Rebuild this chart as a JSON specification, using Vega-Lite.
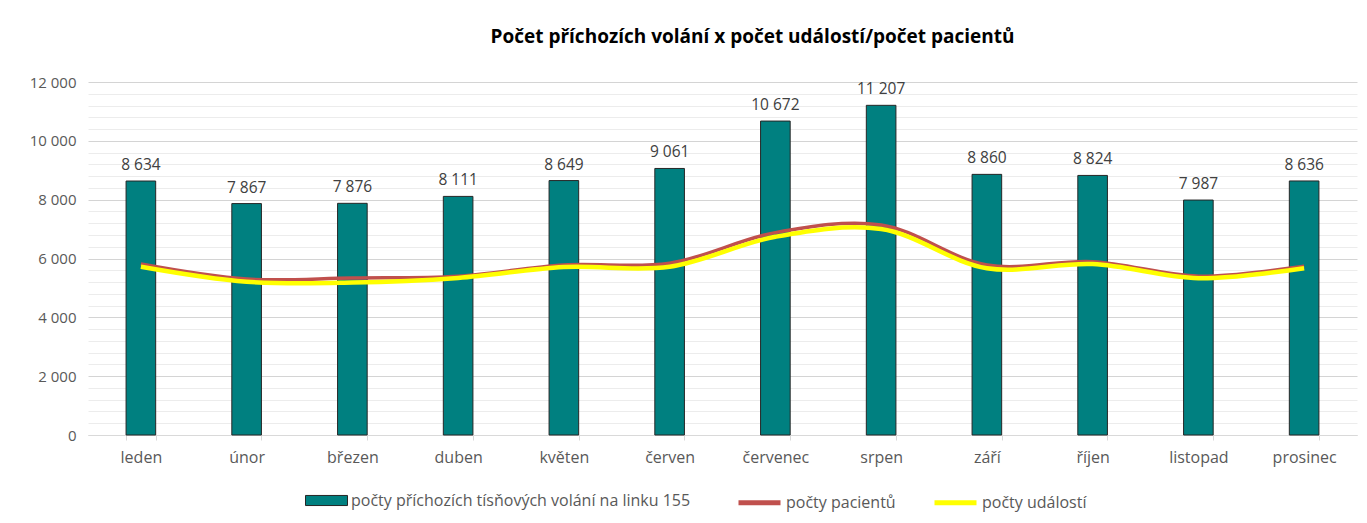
{
  "$schema": "https://vega.github.io/schema/vega-lite/v6.json",
  "autosize": {"type": "none"},
  "width": 1269,
  "height": 353,
  "padding": {"left": 88, "top": 82, "right": 10, "bottom": 88},
  "background": "white",
  "config": {
    "font": "Open Sans",
    "view": {"stroke": null},
    "locale": {"number": {"decimal": ",", "thousands": " ", "grouping": [3], "currency": ["", " Kč"]}},
    "axisY": {
      "title": null,
      "format": ",d",
      "labelExpr": "datum.value % 2000 === 0 ? datum.label : ''",
      "domain": false,
      "ticks": false,
      "labelPadding": 12,
      "labelFontSize": 15,
      "labelColor": "#595959",
      "gridColor": {"condition": {"test": "datum.value % 2000 === 0", "value": "#d4d4d4"}, "value": "#ececec"},
      "gridWidth": 1
    }
  },
  "title": {
    "text": "Počet příchozích volání x počet událostí/počet pacientů",
    "fontSize": 19,
    "fontWeight": "bold",
    "color": "#000000",
    "anchor": "middle",
    "dx": 30,
    "offset": 28
  },
  "data": {
    "values": [
      {"mesic": "leden", "volani": 8634, "pacienti": 5810, "udalosti": 5720},
      {"mesic": "únor", "volani": 7867, "pacienti": 5300, "udalosti": 5210},
      {"mesic": "březen", "volani": 7876, "pacienti": 5340, "udalosti": 5180},
      {"mesic": "duben", "volani": 8111, "pacienti": 5400, "udalosti": 5340},
      {"mesic": "květen", "volani": 8649, "pacienti": 5780, "udalosti": 5710},
      {"mesic": "červen", "volani": 9061, "pacienti": 5840, "udalosti": 5720},
      {"mesic": "červenec", "volani": 10672, "pacienti": 6880, "udalosti": 6740},
      {"mesic": "srpen", "volani": 11207, "pacienti": 7140, "udalosti": 7000},
      {"mesic": "září", "volani": 8860, "pacienti": 5780, "udalosti": 5670},
      {"mesic": "říjen", "volani": 8824, "pacienti": 5890, "udalosti": 5810},
      {"mesic": "listopad", "volani": 7987, "pacienti": 5400, "udalosti": 5330},
      {"mesic": "prosinec", "volani": 8636, "pacienti": 5740, "udalosti": 5670}
    ]
  },
  "encoding": {
    "x": {
      "field": "mesic",
      "type": "nominal",
      "sort": null,
      "title": null,
      "scale": {"paddingInner": 0.72, "paddingOuter": 0.36},
      "axis": {
        "labelAngle": 0,
        "labelFontSize": 16,
        "labelColor": "#595959",
        "labelPadding": 9,
        "domainColor": "#d9d9d9",
        "tickColor": "#d9d9d9",
        "tickSize": 5,
        "tickBand": "extent",
        "grid": false
      }
    }
  },
  "layer": [
    {
      "mark": {"type": "bar", "stroke": "#262626", "strokeWidth": 1},
      "encoding": {
        "y": {
          "field": "volani",
          "type": "quantitative",
          "title": null,
          "scale": {"domain": [0, 12000], "nice": false},
          "axis": {"values": [0, 400, 800, 1200, 1600, 2000, 2400, 2800, 3200, 3600, 4000, 4400, 4800, 5200, 5600, 6000, 6400, 6800, 7200, 7600, 8000, 8400, 8800, 9200, 9600, 10000, 10400, 10800, 11200, 11600, 12000]}
        },
        "fill": {
          "datum": "počty příchozích tísňových volání na linku 155",
          "type": "nominal",
          "scale": {"range": ["#008080"]},
          "legend": {
            "title": null,
            "orient": "none",
            "legendX": 217,
            "legendY": 397,
            "padding": 0,
            "symbolSize": 1764,
            "symbolType": "M-1,-0.24H1V0.24H-1Z",
            "symbolStrokeColor": "#262626",
            "symbolStrokeWidth": 1,
            "symbolOpacity": 1,
            "labelFontSize": 16,
            "labelColor": "#595959",
            "labelLimit": 600,
            "labelOffset": 3
          }
        }
      }
    },
    {
      "mark": {"type": "text", "baseline": "bottom", "dy": -8, "fontSize": 15.5, "color": "#404040"},
      "encoding": {
        "y": {
          "field": "volani",
          "type": "quantitative",
          "title": null,
          "axis": {"values": [0, 400, 800, 1200, 1600, 2000, 2400, 2800, 3200, 3600, 4000, 4400, 4800, 5200, 5600, 6000, 6400, 6800, 7200, 7600, 8000, 8400, 8800, 9200, 9600, 10000, 10400, 10800, 11200, 11600, 12000]}
        },
        "text": {"field": "volani", "type": "quantitative", "format": ",d"}
      }
    },
    {
      "mark": {"type": "line", "interpolate": "catmull-rom", "strokeWidth": 3.5},
      "encoding": {
        "y": {
          "field": "pacienti",
          "type": "quantitative",
          "title": null,
          "axis": {"values": [0, 400, 800, 1200, 1600, 2000, 2400, 2800, 3200, 3600, 4000, 4400, 4800, 5200, 5600, 6000, 6400, 6800, 7200, 7600, 8000, 8400, 8800, 9200, 9600, 10000, 10400, 10800, 11200, 11600, 12000]}
        },
        "stroke": {
          "datum": "počty pacientů",
          "type": "nominal",
          "scale": {"domain": ["počty pacientů", "počty událostí"], "range": ["#c0504d", "#ffff00"]},
          "legend": {
            "title": null,
            "orient": "none",
            "direction": "horizontal",
            "legendX": 648,
            "legendY": 397,
            "padding": 0,
            "symbolSize": 1764,
            "symbolType": "M-1,0H1",
            "symbolStrokeWidth": 5,
            "symbolOpacity": 1,
            "labelFontSize": 16,
            "labelColor": "#595959",
            "labelLimit": 600,
            "labelOffset": 3,
            "columnPadding": 28
          }
        }
      }
    },
    {
      "mark": {"type": "line", "interpolate": "catmull-rom", "strokeWidth": 4.5},
      "encoding": {
        "y": {
          "field": "udalosti",
          "type": "quantitative",
          "title": null,
          "axis": {"values": [0, 400, 800, 1200, 1600, 2000, 2400, 2800, 3200, 3600, 4000, 4400, 4800, 5200, 5600, 6000, 6400, 6800, 7200, 7600, 8000, 8400, 8800, 9200, 9600, 10000, 10400, 10800, 11200, 11600, 12000]}
        },
        "stroke": {"datum": "počty událostí", "type": "nominal"}
      }
    }
  ]
}
